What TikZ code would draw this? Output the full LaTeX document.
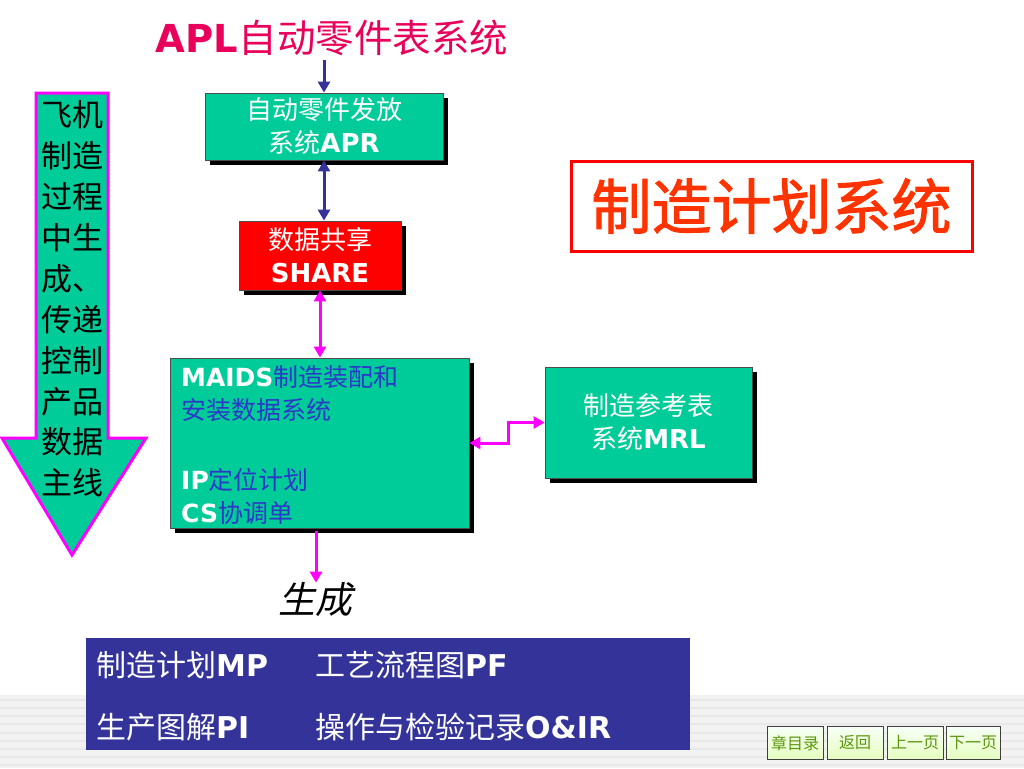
\documentclass[tikz,border=0pt]{standalone}
\usepackage{fontspec}
\setmainfont{DejaVu Sans}
\newfontfamily\cjk{Noto Sans CJK SC}
\newfontfamily\cjkb{Noto Sans CJK SC}[FakeBold=1.6]
\newfontfamily\cjki{Noto Sans CJK SC}[FakeSlant=0.22]
\usetikzlibrary{arrows.meta,shadows}
\definecolor{boxgreen}{RGB}{0,204,153}
\definecolor{arrblue}{RGB}{51,51,153}
\definecolor{mag}{RGB}{255,0,255}
\definecolor{titlered}{RGB}{232,0,90}
\definecolor{txtblue}{RGB}{45,55,200}
\definecolor{bigred}{RGB}{255,51,0}
\definecolor{navgreen}{RGB}{90,150,10}
\newcommand{\lb}[1]{{\normalfont\bfseries #1}}
\tikzset{
  sysbox/.style={draw=black!70, line width=0.8pt, fill=boxgreen, inner sep=0pt,
     drop shadow={shadow xshift=5pt, shadow yshift=-5pt, fill=black, opacity=1},
     text=white, align=center, font=\cjk\fontsize{26}{33}\selectfont},
  tip/.tip={Triangle[length=11pt,width=12pt]},
  bluearrow/.style={draw=arrblue, line width=3pt, -tip},
  bluedouble/.style={draw=arrblue, line width=3pt, tip-tip},
  magarrow/.style={draw=mag, line width=3pt, -tip},
  magdouble/.style={draw=mag, line width=3pt, tip-tip},
  navbtn/.style={draw=black!75, line width=0.8pt, top color=white!80!green!15, bottom color=green!40!yellow!25!white,
     minimum width=56pt, minimum height=33pt, inner sep=0pt, text=navgreen, font=\cjk\fontsize{16}{18}\selectfont}
}
\begin{document}
\begin{tikzpicture}[x=1pt,y=-1pt]
\useasboundingbox (0,0) rectangle (1024,768);
\fill[white] (0,0) rectangle (1024,768);
% faint background band at bottom
\fill[black!5] (0,695) rectangle (1024,768);
\foreach \yy in {700,708,716,724,733,741,749,757,765}{
  \draw[black!9, line width=2pt] (0,\yy) -- (1024,\yy);
}

% title
\node[text=titlered, inner sep=0pt, font=\cjk\fontsize{38.5}{40}\selectfont] (title) at (332,38)
  {\lb{APL}自动零件表系统};

% APR box
\node[sysbox, minimum width=238pt, minimum height=67pt] (apr) at (324,126.5)
  {自动零件发放\\系统\lb{APR}};

% SHARE box
\node[sysbox, fill=red, minimum width=162pt, minimum height=69pt, font=\cjk\fontsize{26}{33}\selectfont] (share) at (320,255.5)
  {数据共享\\\lb{SHARE}};

% MAIDS box
\node[sysbox, minimum width=299pt, minimum height=170pt] (maids) at (319.5,443) {};
\node[anchor=north west, inner sep=0pt, align=left, text=txtblue, font=\cjk\fontsize{25}{33}\selectfont] (maidstxt) at (181,365)
  {\textcolor{white}{\lb{MAIDS}}制造装配和\\
   安装数据系统\\[37pt]
   \textcolor{white}{\lb{IP}}定位计划\\
   \textcolor{white}{\lb{CS}}协调单};

% MRL box
\node[sysbox, minimum width=207pt, minimum height=111pt] (mrl) at (648.5,422.5)
  {制造参考表\\系统\lb{MRL}};

% red framed title
\node[draw=red, line width=3pt, minimum width=401pt, minimum height=90pt, inner sep=0pt,
      text=bigred, font=\cjkb\fontsize{60}{64}\selectfont] (mps) at (771.5,206)
  {制造计划系统};

% generated label
\node[inner sep=0pt, font=\cjki\fontsize{37}{40}\selectfont] (gen) at (315,600) {生成};

% bottom blue box
\node[fill=arrblue, minimum width=604pt, minimum height=112pt, inner sep=0pt] (outbox) at (388,694) {};
\node[anchor=west, inner sep=0pt, text=white, font=\cjk\fontsize{30}{34}\selectfont] (out1) at (96,665)
  {\makebox[219pt][l]{制造计划\lb{MP}}工艺流程图\lb{PF}};
\node[anchor=west, inner sep=0pt, text=white, font=\cjk\fontsize{30}{34}\selectfont] (out2) at (96,727)
  {\makebox[219pt][l]{生产图解\lb{PI}}操作与检验记录\lb{O\&IR}};

% left big arrow
\draw[draw=mag, line width=3pt, fill=boxgreen, line join=miter]
  (36,93) -- (108,93) -- (108,438) -- (146,438) -- (72,555) -- (2,438) -- (36,438) -- cycle;
\node[inner sep=0pt, align=center, text=black, font=\cjk\fontsize{31}{40.9}\selectfont] (mainline) at (72,299)
  {飞机\\制造\\过程\\中生\\成、\\传递\\控制\\产品\\数据\\主线};

% connectors
\coordinate (tstart) at (324,60);
\coordinate (gstart) at (316,531);
\draw[bluearrow] (tstart) -- (apr.north);
\draw[bluedouble] (apr.south) -- (apr.south |- share.north);
\draw[magdouble] (share.south) -- (share.south |- maids.north);
\draw[magdouble] (maids.east) -- ++(39,0) |- (mrl.west);
\draw[magarrow] (gstart) -- (gstart |- gen.north);

% navigation buttons
\node[navbtn] (nav1) at (795,743) {章目录};
\node[navbtn] (nav2) at (855,743) {返回};
\node[navbtn] (nav3) at (915,743) {上一页};
\node[navbtn, minimum width=54pt] (nav4) at (973,743) {下一页};
\end{tikzpicture}
\end{document}
